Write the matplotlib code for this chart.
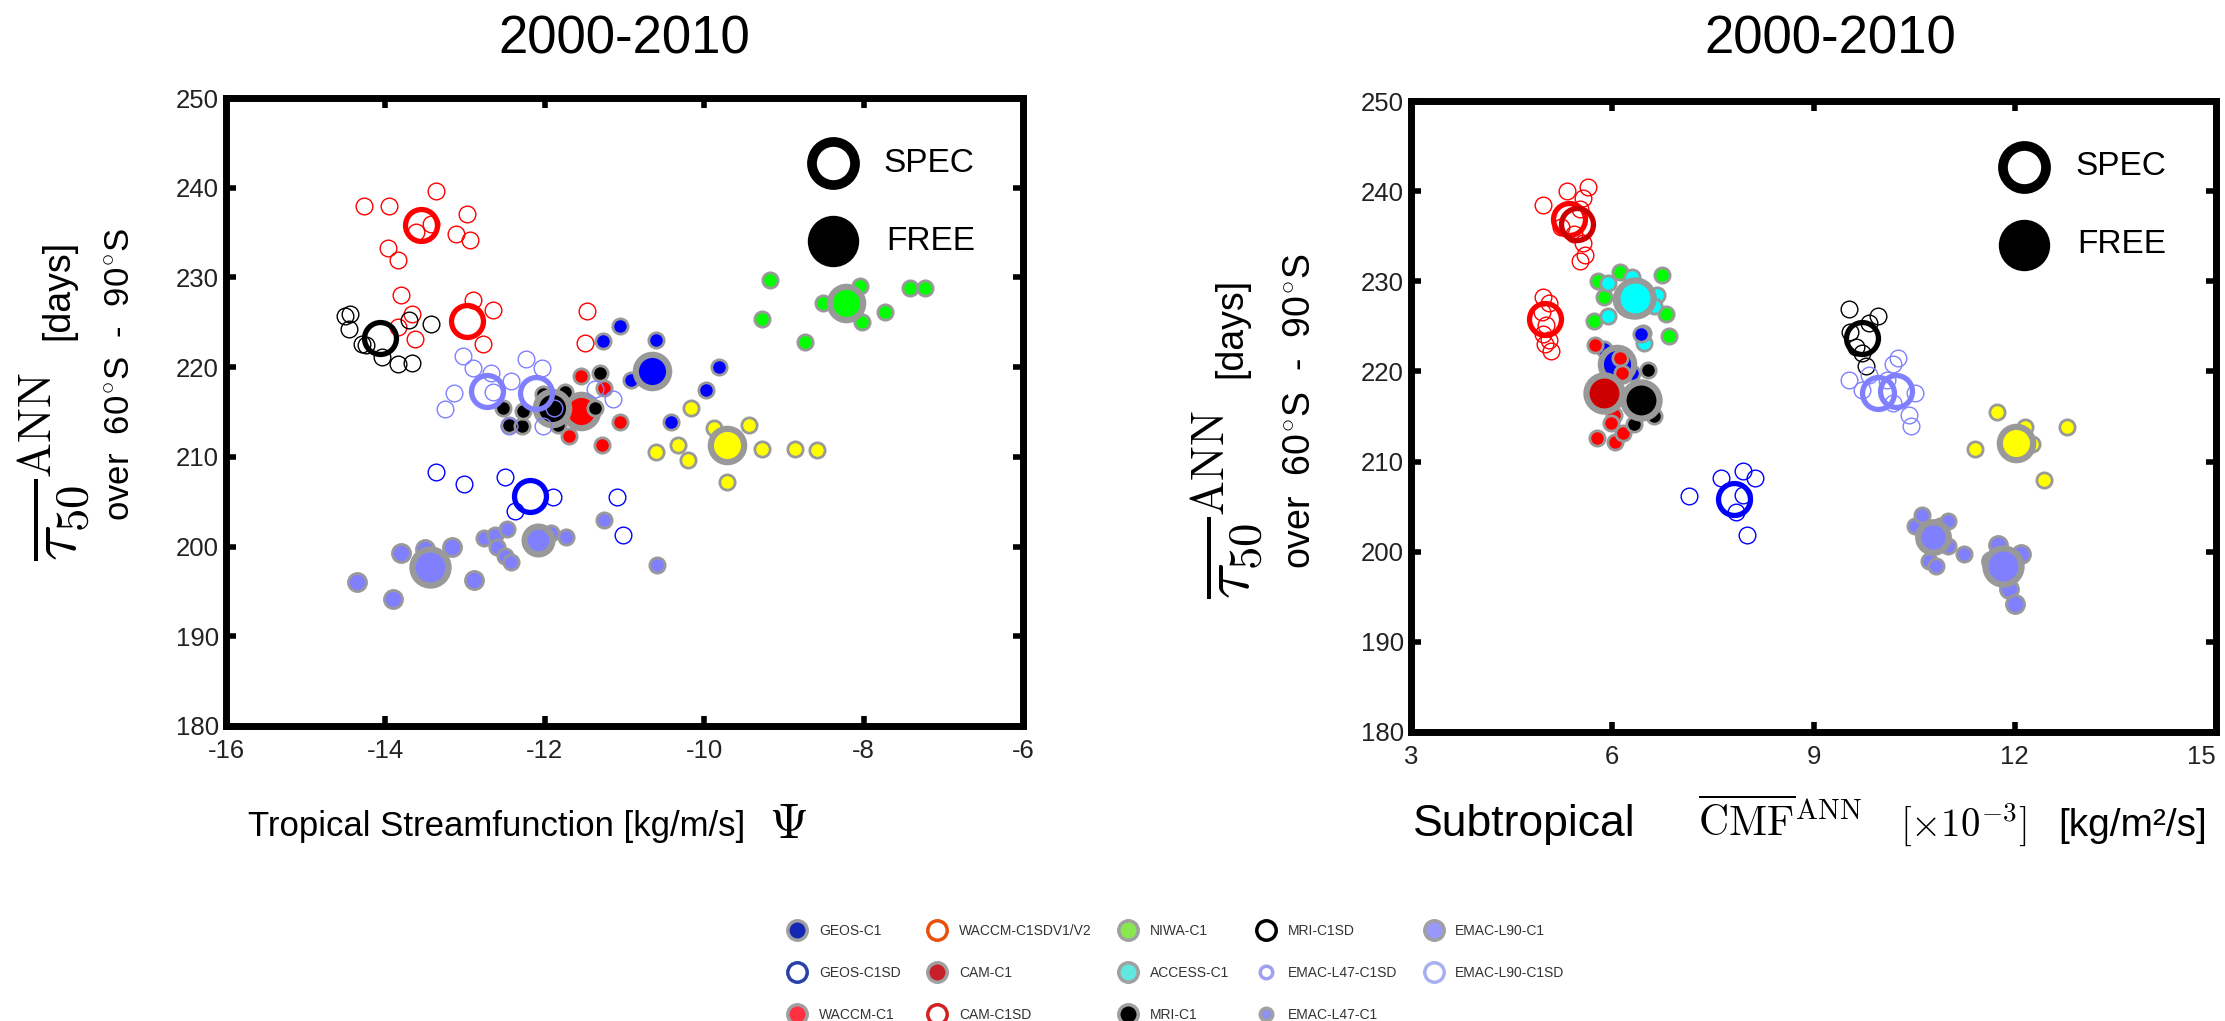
import matplotlib
matplotlib.use("Agg")
import matplotlib.pyplot as plt
from matplotlib.lines import Line2D

plt.rcParams['font.family'] = ['Liberation Sans', 'DejaVu Sans']
plt.rcParams['mathtext.fontset'] = 'cm'
plt.rcParams['axes.unicode_minus'] = False

W, H = 2225, 1021

# ============ Left panel: tropical streamfunction Psi [kg/m/s] ============
# individual years (small markers) and 2000-2010 means (large markers)
psi_waccm_sd = [-14.27, -13.95, -13.36, -12.98, -13.43, -13.61, -13.12, -12.94, -13.97, -13.84]
tau_psi_waccm_sd = [238.0, 238.0, 239.6, 237.1, 235.9, 235.1, 234.8, 234.2, 233.3, 231.9]
psi_waccm_sd_mean = [-13.55]
tau_psi_waccm_sd_mean = [235.8]

psi_cam_sd = [-13.81, -12.90, -12.65, -13.66, -13.84, -13.63, -12.77, -11.47, -11.50]
tau_psi_cam_sd = [228.0, 227.5, 226.4, 225.9, 224.5, 223.1, 222.6, 226.3, 222.7]
psi_cam_sd_mean = [-12.97]
tau_psi_cam_sd_mean = [225.1]

psi_mri_sd = [-14.51, -14.45, -14.46, -14.29, -14.24, -14.04, -13.84, -13.66, -13.71, -13.43]
tau_psi_mri_sd = [225.7, 225.9, 224.2, 222.6, 222.5, 221.1, 220.3, 220.5, 225.2, 224.8]
psi_mri_sd_mean = [-14.07]
tau_psi_mri_sd_mean = [223.2]

psi_emac_sd = [-13.03, -12.90, -12.67, -13.14, -13.25, -12.65, -12.42, -12.24, -12.03,
               -12.45, -12.02, -11.88, -11.37, -11.14]
tau_psi_emac_sd = [221.2, 219.9, 219.4, 217.1, 215.3, 217.2, 218.4, 220.9, 219.9,
                   213.4, 213.4, 215.5, 217.6, 216.4]
psi_emac_sd_mean = [-12.73, -12.11]
tau_psi_emac_sd_mean = [217.3, 217.1]

psi_geos_sd = [-13.36, -13.02, -12.50, -12.37, -11.90, -11.10, -11.02]
tau_psi_geos_sd = [208.3, 207.0, 207.8, 204.0, 205.5, 205.5, 201.3]
psi_geos_sd_mean = [-12.19]
tau_psi_geos_sd_mean = [205.6]

psi_emac_l90 = [-14.36, -13.91, -13.81, -13.50, -13.17, -12.89]
tau_psi_emac_l90 = [196.0, 194.2, 199.3, 199.7, 200.0, 196.3]
psi_emac_l90_mean = [-13.44]
tau_psi_emac_l90_mean = [197.7]

psi_emac_l47 = [-12.76, -12.63, -12.60, -12.47, -12.50, -12.42, -11.92, -11.73, -11.26, -10.59]
tau_psi_emac_l47 = [200.9, 201.3, 199.9, 202.0, 198.9, 198.3, 201.5, 201.1, 203.0, 197.9]
psi_emac_l47_mean = [-12.09]
tau_psi_emac_l47_mean = [200.7]

psi_geos = [-11.06, -11.27, -10.61, -10.92, -9.82, -9.98, -10.42]
tau_psi_geos = [224.6, 222.9, 223.0, 218.6, 220.0, 217.5, 213.9]
psi_geos_mean = [-10.65]
tau_psi_geos_mean = [219.6]

psi_mri = [-11.31, -12.52, -12.45, -12.29, -12.27, -12.02, -11.75, -11.37, -11.84]
tau_psi_mri = [219.3, 215.5, 213.6, 213.4, 215.1, 217.0, 217.2, 215.5, 213.6]
psi_mri_mean = [-11.91]
tau_psi_mri_mean = [215.5]

psi_waccm = [-11.55, -11.26, -11.06, -11.28, -11.70]
tau_psi_waccm = [219.0, 217.7, 213.9, 211.3, 212.3]
psi_waccm_mean = [-11.54]
tau_psi_waccm_mean = [215.1]

psi_niwa = [-9.17, -8.04, -8.51, -7.73, -8.02, -9.27, -8.73, -7.42, -7.23]
tau_psi_niwa = [229.7, 229.0, 227.2, 226.2, 225.0, 225.4, 222.8, 228.8, 228.8]
psi_niwa_mean = [-8.22]
tau_psi_niwa_mean = [227.1]

psi_yellow = [-10.17, -9.44, -9.88, -10.33, -10.61, -10.20, -9.28, -8.86, -8.58, -9.71]
tau_psi_yellow = [215.4, 213.6, 213.2, 211.3, 210.5, 209.6, 210.9, 210.9, 210.8, 207.2]
psi_yellow_mean = [-9.71]
tau_psi_yellow_mean = [211.3]

# ============ Right panel: subtropical CMF [1e-3 kg/m2/s] ============
cmf_waccm_sd = [4.97, 5.32, 5.64, 5.56, 5.52, 5.24, 5.43, 5.56, 5.59, 5.52]
tau_cmf_waccm_sd = [238.5, 240.0, 240.5, 239.2, 238.0, 236.0, 235.3, 234.2, 232.9, 232.3]
cmf_waccm_sd_mean = [5.35, 5.47]
tau_cmf_waccm_sd_mean = [236.9, 236.3]

cmf_cam_sd = [4.97, 5.06, 4.95, 5.01, 4.97, 5.06, 5.08, 5.00]
tau_cmf_cam_sd = [228.3, 227.6, 226.6, 225.2, 224.2, 223.5, 222.3, 223.0]
cmf_cam_sd_mean = [5.00]
tau_cmf_cam_sd_mean = [225.8]

cmf_mri_sd = [9.53, 9.55, 9.82, 9.96, 9.73, 9.78, 9.64]
tau_cmf_mri_sd = [226.9, 224.4, 225.4, 226.1, 222.0, 220.6, 222.7]
cmf_mri_sd_mean = [9.73]
tau_cmf_mri_sd_mean = [223.7]

cmf_emac_sd = [9.53, 9.82, 10.19, 10.26, 10.10, 10.51, 10.42, 10.45, 10.19, 9.73]
tau_cmf_emac_sd = [219.1, 219.6, 220.8, 221.5, 219.1, 217.6, 215.2, 214.0, 216.5, 217.9]
cmf_emac_sd_mean = [9.96, 10.23]
tau_cmf_emac_sd_mean = [217.6, 217.8]

cmf_geos_sd = [7.14, 7.62, 7.95, 8.13, 7.95, 7.85, 8.01]
tau_cmf_geos_sd = [206.2, 208.2, 209.0, 208.2, 206.3, 204.4, 201.8]
cmf_geos_sd_mean = [7.81]
tau_cmf_geos_sd_mean = [205.8]

cmf_yellow = [11.73, 12.16, 11.41, 12.25, 12.78, 12.43]
tau_cmf_yellow = [215.5, 213.8, 211.4, 211.9, 213.8, 208.0]
cmf_yellow_mean = [12.02]
tau_cmf_yellow_mean = [212.1]

cmf_emac_l47 = [10.51, 10.62, 10.88, 11.01, 10.72, 10.83, 11.01, 11.24]
tau_cmf_emac_l47 = [202.8, 204.1, 202.9, 203.4, 199.0, 198.4, 200.6, 199.8]
cmf_emac_l47_mean = [10.78]
tau_cmf_emac_l47_mean = [201.6]

cmf_emac_l90 = [11.75, 12.09, 11.91, 12.00, 11.65]
tau_cmf_emac_l90 = [200.8, 199.8, 195.9, 194.2, 199.0]
cmf_emac_l90_mean = [11.82]
tau_cmf_emac_l90_mean = [198.4]

cmf_niwa = [6.11, 6.74, 5.79, 6.80, 6.85, 5.73, 5.87]
tau_cmf_niwa = [231.0, 230.7, 230.0, 226.4, 223.9, 225.6, 228.3]
cmf_niwa_mean = [6.30]
tau_cmf_niwa_mean = [228.0]

cmf_access = [5.93, 6.30, 6.66, 6.62, 5.93, 6.48, 6.46]
tau_cmf_access = [229.8, 230.5, 228.5, 227.3, 226.1, 223.2, 224.3]
cmf_access_mean = [6.34]
tau_cmf_access_mean = [228.1]

cmf_geos = [5.88, 6.43, 6.30, 6.16]
tau_cmf_geos = [222.5, 224.2, 219.8, 219.6]
cmf_geos_mean = [6.07]
tau_cmf_geos_mean = [220.8]

cmf_waccm = [5.75, 6.11, 6.14, 5.77, 6.04, 6.16, 6.02, 5.98]
tau_cmf_waccm = [222.9, 221.5, 219.8, 212.6, 212.2, 213.2, 215.2, 214.3]

cmf_cam_mean = [5.87]
tau_cmf_cam_mean = [217.6]

cmf_mri = [6.54, 6.32, 6.62]
tau_cmf_mri = [220.2, 214.2, 215.0]
cmf_mri_mean = [6.43]
tau_cmf_mri_mean = [216.8]

# axis ticks
psi_ticks = [-16, -14, -12, -10, -8, -6]
cmf_ticks = [3, 6, 9, 12, 15]
tau_ticks = [180, 190, 200, 210, 220, 230, 240, 250]

# legend entries
legend_names = ['GEOS-C1', 'GEOS-C1SD', 'WACCM-C1',
                'WACCM-C1SDV1/V2', 'CAM-C1', 'CAM-C1SD',
                'NIWA-C1', 'ACCESS-C1', 'MRI-C1',
                'MRI-C1SD', 'EMAC-L47-C1SD', 'EMAC-L47-C1',
                'EMAC-L90-C1', 'EMAC-L90-C1SD']
legend_colors = ['#1428b4', '#2840a8', '#ff3040',
                 '#e8500a', '#c8202a', '#d42020',
                 '#88e850', '#60e8e0', '#000000',
                 '#000000', '#a0a0f0', '#9090f0',
                 '#9898f8', '#a8b0f0']
legend_filled = [True, False, True, False, True, False, True, True, True,
                 False, False, True, True, False]
legend_small = [False] * 10 + [True, True, False, False]

# ---------------------------------------------------------------------------
RED, DRED, BLUE, GREEN = '#ff0000', '#cc0000', '#0000ff', '#00ff00'
CYAN, YELLOW, EMAC, GREY = '#00ffff', '#ffff00', '#8080ff', '#999999'


def free(ax, xs, ys, mx, my, color, ms=11, mms=24):
    if xs:
        ax.plot(xs, ys, 'o', ls='none', ms=ms, mfc=color, mec=GREY, mew=2)
    if mx:
        ax.plot(mx, my, 'o', ls='none', ms=mms, mfc=color, mec=GREY, mew=4.5)


def spec(ax, xs, ys, mx, my, color, mcolor=None):
    ax.plot(xs, ys, 'o', ls='none', ms=12, mfc='none', mec=color, mew=1)
    cols = mcolor if mcolor else [color] * len(mx)
    for x, y, c in zip(mx, my, cols):
        ax.plot([x], [y], 'o', ls='none', ms=23, mfc='none', mec=c, mew=3.8)


def style(ax, xlim, xticks):
    ax.set_xlim(*xlim)
    ax.set_ylim(180, 250)
    ax.set_xticks(xticks)
    ax.set_yticks(tau_ticks)
    for s in ax.spines.values():
        s.set_linewidth(5)
    ax.tick_params(direction='in', length=7, width=4, top=True, right=True,
                   labelsize=18.5, labelcolor='#222222')
    ax.tick_params(axis='x', pad=9)
    ax.tick_params(axis='y', pad=5)
    # SPEC / FREE key
    ax.plot([0.762], [0.896], 'o', transform=ax.transAxes, ms=31, mfc='none',
            mec='black', mew=7, clip_on=False)
    ax.plot([0.762], [0.772], 'o', transform=ax.transAxes, ms=37, mfc='black',
            mec='black', mew=0, clip_on=False)
    ax.text(0.825, 0.896, 'SPEC', transform=ax.transAxes, fontsize=24,
            va='center', ha='left')
    ax.text(0.828, 0.772, 'FREE', transform=ax.transAxes, fontsize=24,
            va='center', ha='left')


fig = plt.figure(figsize=(W / 100, H / 100), dpi=100)

# ---------------- left panel ----------------
axL = fig.add_axes([226 / W, 1 - 726 / H, (1023 - 226) / W, (726 - 98) / H])
free(axL, psi_niwa, tau_psi_niwa, psi_niwa_mean, tau_psi_niwa_mean, GREEN)
free(axL, psi_yellow, tau_psi_yellow, psi_yellow_mean, tau_psi_yellow_mean, YELLOW)
free(axL, psi_emac_l90, tau_psi_emac_l90, psi_emac_l90_mean, tau_psi_emac_l90_mean, EMAC, ms=13, mms=26)
free(axL, psi_emac_l47, tau_psi_emac_l47, psi_emac_l47_mean, tau_psi_emac_l47_mean, EMAC, ms=11, mms=20)
free(axL, psi_geos, tau_psi_geos, psi_geos_mean, tau_psi_geos_mean, BLUE)
free(axL, psi_waccm, tau_psi_waccm, psi_waccm_mean, tau_psi_waccm_mean, RED)
free(axL, psi_mri, tau_psi_mri, psi_mri_mean, tau_psi_mri_mean, 'black')
spec(axL, psi_waccm_sd, tau_psi_waccm_sd, psi_waccm_sd_mean, tau_psi_waccm_sd_mean, RED)
spec(axL, psi_cam_sd, tau_psi_cam_sd, psi_cam_sd_mean, tau_psi_cam_sd_mean, RED)
spec(axL, psi_mri_sd, tau_psi_mri_sd, psi_mri_sd_mean, tau_psi_mri_sd_mean, 'black')
spec(axL, psi_emac_sd, tau_psi_emac_sd, psi_emac_sd_mean, tau_psi_emac_sd_mean, EMAC)
spec(axL, psi_geos_sd, tau_psi_geos_sd, psi_geos_sd_mean, tau_psi_geos_sd_mean, BLUE)
style(axL, (-16, -6), psi_ticks)

# ---------------- right panel ----------------
axR = fig.add_axes([1411 / W, 1 - 732 / H, (2216 - 1411) / W, (732 - 101) / H])
free(axR, cmf_niwa, tau_cmf_niwa, cmf_niwa_mean, tau_cmf_niwa_mean, GREEN)
free(axR, cmf_access, tau_cmf_access, cmf_access_mean, tau_cmf_access_mean, CYAN, mms=26)
free(axR, cmf_geos, tau_cmf_geos, cmf_geos_mean, tau_cmf_geos_mean, BLUE)
free(axR, cmf_waccm, tau_cmf_waccm, [], [], RED)
free(axR, [], [], cmf_cam_mean, tau_cmf_cam_mean, DRED, mms=26)
free(axR, cmf_mri, tau_cmf_mri, cmf_mri_mean, tau_cmf_mri_mean, 'black', mms=26)
free(axR, cmf_yellow, tau_cmf_yellow, cmf_yellow_mean, tau_cmf_yellow_mean, YELLOW)
free(axR, cmf_emac_l47, tau_cmf_emac_l47, cmf_emac_l47_mean, tau_cmf_emac_l47_mean, EMAC, ms=11, mms=22)
free(axR, cmf_emac_l90, tau_cmf_emac_l90, cmf_emac_l90_mean, tau_cmf_emac_l90_mean, EMAC, ms=13, mms=26)
spec(axR, cmf_waccm_sd, tau_cmf_waccm_sd, cmf_waccm_sd_mean, tau_cmf_waccm_sd_mean, RED, [RED, DRED])
spec(axR, cmf_cam_sd, tau_cmf_cam_sd, cmf_cam_sd_mean, tau_cmf_cam_sd_mean, RED)
spec(axR, cmf_mri_sd, tau_cmf_mri_sd, cmf_mri_sd_mean, tau_cmf_mri_sd_mean, 'black')
spec(axR, cmf_emac_sd, tau_cmf_emac_sd, cmf_emac_sd_mean, tau_cmf_emac_sd_mean, EMAC)
spec(axR, cmf_geos_sd, tau_cmf_geos_sd, cmf_geos_sd_mean, tau_cmf_geos_sd_mean, BLUE)
style(axR, (3, 15), cmf_ticks)
# keep the last tick label inside the figure
axR.get_xticklabels()[-1].set_horizontalalignment('right')

# ---------------- titles ----------------
fig.text(624 / W, 1 - 40 / H, '2000-2010', fontsize=38, ha='center', va='center')
fig.text(1830 / W, 1 - 40 / H, '2000-2010', fontsize=38, ha='center', va='center')

# ---------------- y labels ----------------
tau_lbl = r'$\overline{\tau_{50}}^{\mathrm{ANN}}$'
region_lbl = r'over  60$^{\circ}$S  -  90$^{\circ}$S'
for x1, y_tau, x_days, y_days, x2, y2, fs2 in [(54, 467, 58, 340, 120, 374, 25),
                                               (1227, 505, 1231, 378, 1300, 411, 27)]:
    fig.text(x1 / W, 1 - y_tau / H, tau_lbl, rotation=90, fontsize=48,
             ha='center', va='center')
    fig.text(x_days / W, 1 - y_days / H, '[days]', rotation=90, fontsize=27,
             ha='center', va='bottom')
    fig.text(x2 / W, 1 - y2 / H, region_lbl, rotation=90, fontsize=fs2,
             ha='center', va='center')

# ---------------- x labels ----------------
fig.text(248 / W, 1 - 836 / H, 'Tropical Streamfunction [kg/m/s]', fontsize=25,
         ha='left', va='baseline')
fig.text(788 / W, 1 - 838 / H, r'$\Psi$', fontsize=36, ha='center', va='baseline')

fig.text(1413 / W, 1 - 836 / H, 'Subtropical', fontsize=32, ha='left', va='baseline')
fig.text(1698 / W, 1 - 836 / H, r'$\overline{\mathrm{CMF}}^{\mathrm{ANN}}$',
         fontsize=30, ha='left', va='baseline')
fig.text(1900 / W, 1 - 836 / H, r'$[\times10^{-3}]$', fontsize=28, ha='left', va='baseline')
fig.text(2207 / W, 1 - 836 / H, '[kg/m²/s]', fontsize=28, ha='right', va='baseline')

# ---------------- model legend ----------------
handles = []
for name, col, filled, small in zip(legend_names, legend_colors, legend_filled, legend_small):
    ms = 9 if small else 14
    if filled:
        h = Line2D([], [], ls='none', marker='o', ms=ms, mfc=col, mec='#a0a0a0',
                   mew=2.5, label=name)
    else:
        h = Line2D([], [], ls='none', marker='o', ms=ms, mfc='white', mec=col,
                   mew=2.5, label=name)
    handles.append(h)
fig.legend(handles=handles, ncol=5, loc='upper left',
           bbox_to_anchor=(787 / W, 1 - 924 / H), frameon=False, fontsize=10,
           handlelength=1.5, handletextpad=0.8, columnspacing=1.9,
           labelspacing=2.0, borderpad=0, borderaxespad=0, labelcolor='#333333')

fig.savefig('out.png', dpi=100)
